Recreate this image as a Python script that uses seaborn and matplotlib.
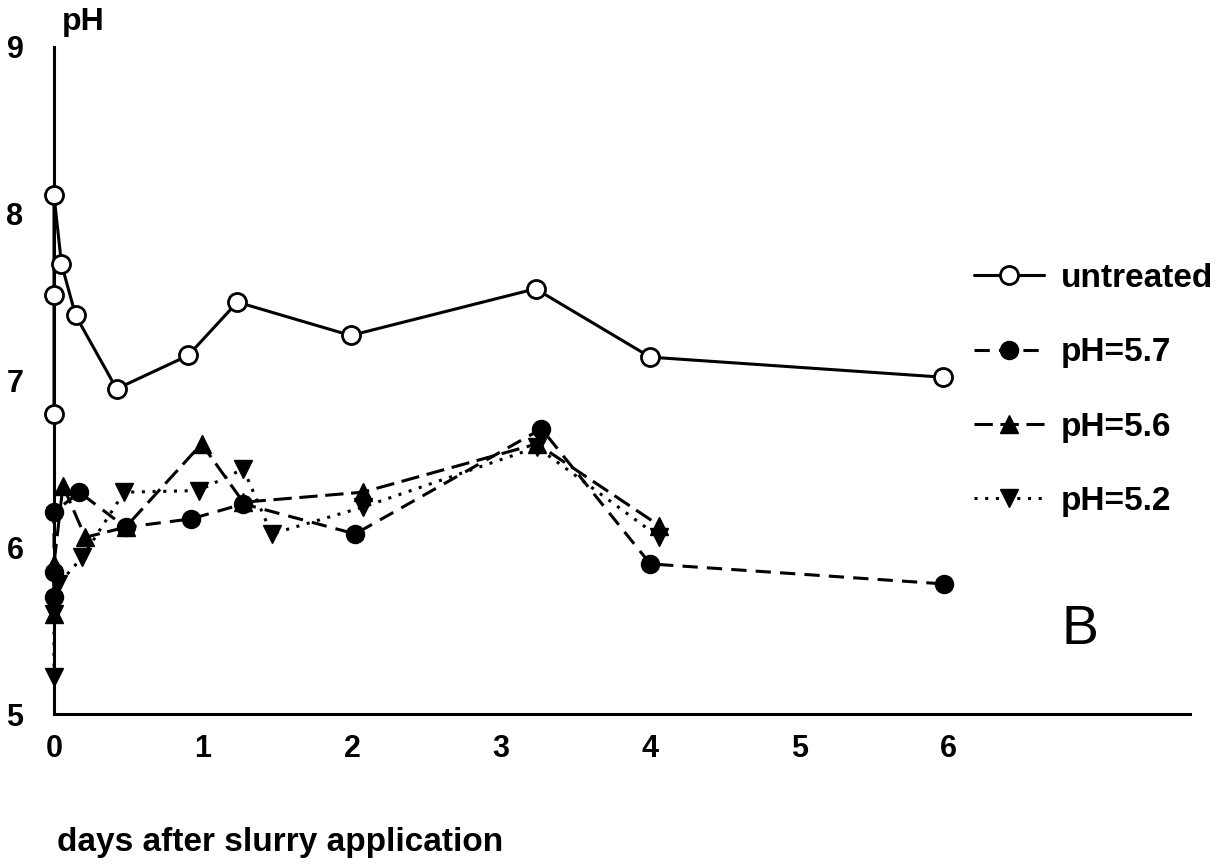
import matplotlib
matplotlib.use("Agg")
import matplotlib.pyplot as plt
import seaborn as sns
import pandas as pd

# ---- data ----
days_untreated = [0.0, 0.0, 0.0, 0.05, 0.145, 0.42, 0.90, 1.23, 1.99, 3.23, 4.00, 5.96]
ph_untreated   = [6.80, 7.51, 8.11, 7.70, 7.39, 6.95, 7.15, 7.47, 7.27, 7.55, 7.14, 7.02]

days_57 = [0.0, 0.0, 0.0, 0.17, 0.48, 0.92, 1.27, 2.02, 3.27, 4.00, 5.97]
ph_57   = [5.70, 5.85, 6.21, 6.33, 6.12, 6.17, 6.26, 6.08, 6.71, 5.90, 5.78]

days_56 = [0.0, 0.0, 0.06, 0.21, 0.48, 0.99, 1.27, 2.07, 3.24, 4.06]
ph_56   = [5.60, 5.90, 6.37, 6.06, 6.12, 6.62, 6.27, 6.33, 6.62, 6.13]

days_52 = [0.0, 0.0, 0.03, 0.19, 0.47, 0.97, 1.27, 1.46, 2.07, 3.24, 4.06]
ph_52   = [5.22, 5.60, 5.78, 5.94, 6.33, 6.34, 6.47, 6.08, 6.24, 6.60, 6.06]

labels = ["untreated", "pH=5.7", "pH=5.6", "pH=5.2"]
x_ticks = [1, 2, 3, 4, 5, 6]
x_labels = [0, 1, 2, 3, 4, 5, 6]
y_ticks = [5, 6, 7, 8, 9]

sns.set_theme(style="white")
plt.rcParams["font.family"] = ["Liberation Sans", "DejaVu Sans"]
plt.rcParams["font.weight"] = "bold"
plt.rcParams["text.color"] = "black"
plt.rcParams["xtick.color"] = "black"
plt.rcParams["ytick.color"] = "black"
plt.rcParams["xtick.labelcolor"] = "black"
plt.rcParams["ytick.labelcolor"] = "black"

fig = plt.figure(figsize=(12.18, 8.67), dpi=100)
ax = fig.add_axes([54/1218, 1-714/867, (1190-54)/1218, (714-47)/867])

series = [
    (days_untreated, ph_untreated, dict(marker="o", mfc="white", mec="black", mew=2.0, ms=13, linestyle="-")),
    (days_57, ph_57, dict(marker="o", mfc="black", mec="black", ms=13, linestyle=(0, (5, 3)))),
    (days_56, ph_56, dict(marker="^", mfc="black", mec="black", ms=13, linestyle=(0, (6, 2.5)))),
    (days_52, ph_52, dict(marker="v", mfc="black", mec="black", ms=13, linestyle=(0, (1, 2.5)))),
]

handles = []
for (d, p, st), lab in zip(series, labels):
    df = pd.DataFrame({"day": d, "pH": p})
    sns.lineplot(data=df, x="day", y="pH", sort=False, estimator=None, ax=ax,
                 color="black", linewidth=2.2, marker=st["marker"],
                 markersize=st["ms"], markerfacecolor=st["mfc"],
                 markeredgecolor=st["mec"], markeredgewidth=st.get("mew", 1.0),
                 linestyle=st["linestyle"], label=lab, legend=False, zorder=3,
                 clip_on=False)
    handles.append(ax.lines[-1])

ax.set_xlim(0, 7.62)
ax.set_ylim(5, 9)
ax.set_xticks(x_ticks)
ax.set_yticks(y_ticks)
ax.set_xticklabels([])
ax.set_yticklabels([str(v) for v in y_ticks], fontsize=22, fontweight="bold", color="black")
ax.tick_params(axis="both", direction="in", length=11, width=2, color="black", pad=22)
ax.tick_params(axis="x", length=13)
for s in ["top", "right"]:
    ax.spines[s].set_visible(False)
for s in ["left", "bottom"]:
    ax.spines[s].set_color("black")
    ax.spines[s].set_linewidth(2.2)
ax.set_xlabel("")
ax.set_ylabel("")

# x tick labels (including 0) below the axis
for v in x_labels:
    ax.text(v, -0.03, str(v), transform=ax.get_xaxis_transform(), ha="center", va="top",
            fontsize=22, fontweight="bold", color="black")

fig.text(62/1218, 1-22/867, "pH", ha="left", va="center", fontsize=23, fontweight="bold",
         color="black")
fig.text(57/1218, 1-843/867, "days after slurry application", ha="left", va="center",
         fontsize=24, fontweight="bold", color="black")
fig.text(1080/1218, 1-630/867, "B", ha="center", va="center", fontsize=40,
         fontweight="normal", color="black")

leg = fig.legend(handles=handles, labels=labels, loc="upper left",
                 bbox_to_anchor=(944/1218, 1-233/867), frameon=False,
                 handlelength=2.1, handletextpad=0.5, labelspacing=1.3,
                 prop={"size": 24, "weight": "bold"})
for t in leg.get_texts():
    t.set_color("black")

fig.savefig("out.png", dpi=100, facecolor="white")
